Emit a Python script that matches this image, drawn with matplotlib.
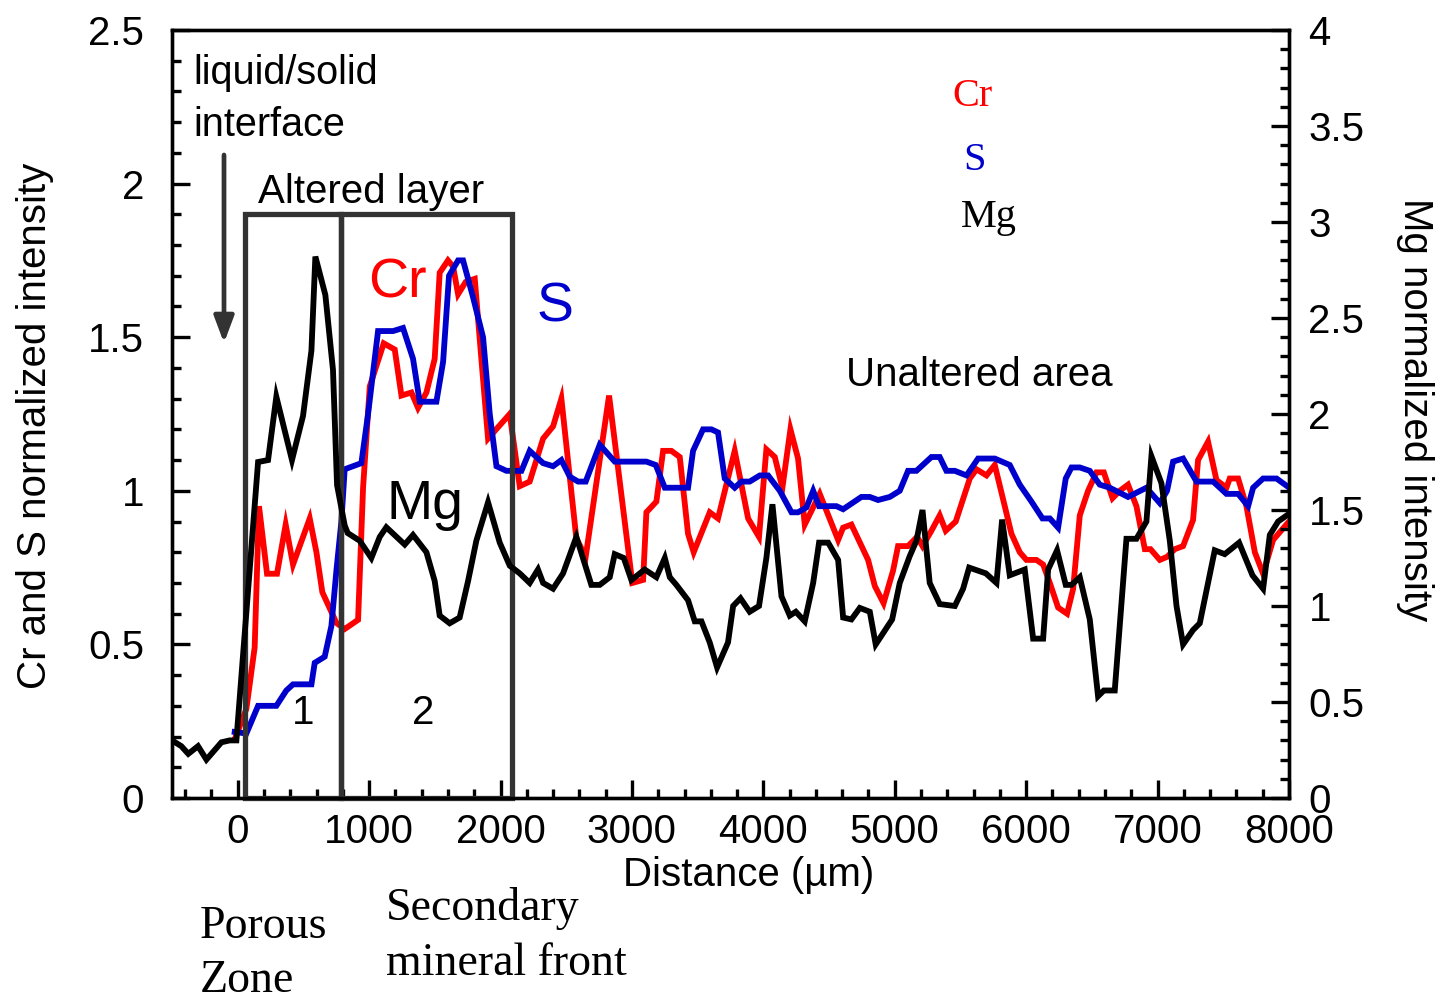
import matplotlib
matplotlib.use("Agg")
import matplotlib.pyplot as plt
from matplotlib.patches import Rectangle

# ---------------- data ----------------
mg_x = [-500, -429, -376, -302, -238, -124, -61, -10, 155, 231,
        294, 413, 497, 561, 591, 667, 725, 756, 814, 837,
        928, 1017, 1081, 1131, 1271, 1334, 1436, 1499, 1537, 1613,
        1689, 1753, 1816, 1905, 1994, 2070, 2146, 2222, 2285, 2324,
        2400, 2476, 2577, 2691, 2755, 2831, 2869, 2938, 2996, 3097,
        3186, 3250, 3288, 3338, 3427, 3478, 3529, 3592, 3648, 3731,
        3770, 3826, 3896, 3967, 4023, 4069, 4138, 4201, 4247, 4315,
        4379, 4424, 4493, 4569, 4607, 4670, 4734, 4810, 4855, 4980,
        5038, 5114, 5165, 5211, 5266, 5342, 5457, 5520, 5566, 5693,
        5774, 5817, 5875, 5989, 6053, 6129, 6167, 6235, 6301, 6345,
        6408, 6484, 6547, 6591, 6674, 6763, 6839, 6915, 6953, 7029,
        7093, 7144, 7194, 7270, 7321, 7384, 7435, 7511, 7620, 7722,
        7803, 7854, 7917, 8000]
mg_y = [0.30, 0.27, 0.23, 0.27, 0.20, 0.29, 0.30, 0.30, 1.75, 1.76,
        2.09, 1.76, 1.99, 2.33, 2.82, 2.62, 2.23, 1.63, 1.42, 1.38,
        1.34, 1.25, 1.36, 1.41, 1.32, 1.37, 1.28, 1.13, 0.95, 0.91,
        0.94, 1.13, 1.34, 1.54, 1.33, 1.21, 1.17, 1.12, 1.19, 1.12,
        1.09, 1.17, 1.36, 1.11, 1.11, 1.15, 1.27, 1.25, 1.135, 1.19,
        1.15, 1.25, 1.15, 1.11, 1.03, 0.92, 0.92, 0.81, 0.68, 0.81,
        1.00, 1.04, 0.97, 1.00, 1.25, 1.53, 1.05, 0.95, 0.97, 0.92,
        1.12, 1.33, 1.33, 1.24, 0.94, 0.93, 0.99, 0.97, 0.80, 0.93,
        1.12, 1.26, 1.34, 1.50, 1.12, 1.01, 1.00, 1.09, 1.20, 1.17,
        1.12, 1.45, 1.16, 1.19, 0.83, 0.83, 1.19, 1.29, 1.11, 1.11,
        1.15, 0.93, 0.53, 0.56, 0.56, 1.35, 1.35, 1.44, 1.78, 1.64,
        1.34, 1.00, 0.80, 0.875, 0.91, 1.12, 1.29, 1.27, 1.33, 1.16,
        1.09, 1.37, 1.44, 1.48]

cr_x = [-15, 66, 129, 162, 223, 299, 365, 421, 548, 599,
        644, 751, 814, 916, 954, 1005, 1111, 1195, 1246, 1322,
        1372, 1436, 1499, 1537, 1600, 1639, 1677, 1735, 1804, 1854,
        1905, 2070, 2146, 2222, 2324, 2400, 2463, 2577, 2648, 2826,
        3003, 3085, 3110, 3186, 3237, 3300, 3364, 3427, 3470, 3592,
        3655, 3782, 3884, 3967, 4023, 4087, 4145, 4206, 4264, 4315,
        4429, 4569, 4607, 4670, 4797, 4848, 4915, 4987, 5025, 5101,
        5170, 5211, 5279, 5342, 5388, 5464, 5571, 5622, 5698, 5761,
        5888, 5951, 6002, 6078, 6129, 6180, 6243, 6311, 6357, 6408,
        6471, 6535, 6591, 6657, 6712, 6775, 6839, 6903, 6946, 7017,
        7072, 7131, 7194, 7270, 7308, 7384, 7448, 7524, 7549, 7613,
        7676, 7740, 7803, 7879, 8000]
cr_y = [0.20, 0.29, 0.49, 0.95, 0.73, 0.73, 0.89, 0.76, 0.91, 0.80,
        0.67, 0.57, 0.55, 0.58, 1.01, 1.34, 1.48, 1.46, 1.31, 1.32,
        1.27, 1.32, 1.43, 1.71, 1.75, 1.73, 1.64, 1.68, 1.69, 1.43,
        1.17, 1.25, 1.015, 1.03, 1.17, 1.21, 1.30, 0.845, 0.785, 1.31,
        0.70, 0.71, 0.93, 0.965, 1.13, 1.13, 1.11, 0.86, 0.80, 0.93,
        0.91, 1.13, 0.91, 0.85, 1.135, 1.11, 1.01, 1.20, 1.105, 0.89,
        0.99, 0.84, 0.88, 0.89, 0.775, 0.69, 0.634, 0.74, 0.82, 0.82,
        0.85, 0.82, 0.87, 0.92, 0.87, 0.90, 1.04, 1.07, 1.05, 1.084,
        0.86, 0.80, 0.775, 0.775, 0.76, 0.70, 0.62, 0.60, 0.68, 0.92,
        1.00, 1.06, 1.06, 0.976, 1.00, 1.02, 0.95, 0.81, 0.81, 0.775,
        0.785, 0.81, 0.82, 0.905, 1.10, 1.16, 1.035, 1.01, 1.04, 1.04,
        0.95, 0.80, 0.73, 0.84, 0.90]

s_x = [-23, 66, 155, 294, 370, 421, 561, 586, 662, 713,
       751, 789, 814, 877, 941, 992, 1068, 1182, 1258, 1334,
       1385, 1512, 1563, 1608, 1677, 1715, 1791, 1867, 1918, 1969,
       2045, 2159, 2222, 2324, 2400, 2463, 2527, 2590, 2648, 2755,
       2869, 3110, 3181, 3250, 3427, 3465, 3541, 3605, 3655, 3706,
       3782, 3833, 3896, 3973, 4036, 4125, 4214, 4264, 4328, 4379,
       4424, 4556, 4607, 4746, 4810, 4873, 4962, 5038, 5101, 5165,
       5279, 5342, 5393, 5457, 5546, 5634, 5761, 5875, 5951, 6040,
       6124, 6180, 6243, 6301, 6345, 6408, 6484, 6560, 6636, 6775,
       6915, 7017, 7072, 7118, 7194, 7296, 7423, 7524, 7613, 7689,
       7727, 7803, 7905, 7986]
s_y = [0.215, 0.21, 0.30, 0.30, 0.35, 0.37, 0.37, 0.44, 0.46, 0.56,
       0.74, 0.90, 1.07, 1.08, 1.09, 1.25, 1.52, 1.52, 1.53, 1.43,
       1.29, 1.29, 1.42, 1.70, 1.75, 1.75, 1.63, 1.50, 1.25, 1.08,
       1.065, 1.065, 1.13, 1.09, 1.08, 1.10, 1.046, 1.03, 1.03, 1.15,
       1.095, 1.095, 1.084, 1.01, 1.01, 1.13, 1.20, 1.20, 1.19, 1.04,
       1.01, 1.03, 1.03, 1.05, 1.05, 1.00, 0.93, 0.93, 0.946, 1.00,
       0.95, 0.95, 0.94, 0.98, 0.98, 0.97, 0.98, 1.00, 1.065, 1.065,
       1.11, 1.11, 1.065, 1.065, 1.05, 1.105, 1.105, 1.084, 1.02, 0.965,
       0.91, 0.91, 0.88, 1.04, 1.076, 1.076, 1.065, 1.02, 1.01, 0.98,
       1.01, 0.96, 1.00, 1.095, 1.105, 1.03, 1.03, 0.99, 0.99, 0.95,
       1.01, 1.04, 1.04, 1.015]

x_ticks = [0, 1000, 2000, 3000, 4000, 5000, 6000, 7000, 8000]
left_ticks = [0, 0.5, 1, 1.5, 2, 2.5]
left_ticklabels = ["0", "0.5", "1", "1.5", "2", "2.5"]
right_ticks = [0, 0.5, 1, 1.5, 2, 2.5, 3, 3.5, 4]
right_ticklabels = ["0", "0.5", "1", "1.5", "2", "2.5", "3", "3.5", "4"]
zone_edges = [53, 789, 2087]   # altered-layer box edges (µm)
zone_top = 1.9

# ---------------- style ----------------
SANS = ["Liberation Sans", "DejaVu Sans"]
SERIF = ["Liberation Serif", "DejaVu Serif"]
plt.rcParams["font.family"] = SANS
RED = "#ff0000"
BLUE = "#0000cc"
BOX = "#333333"
LW = 4.2

W, H = 1445, 1002
fig = plt.figure(figsize=(W / 100, H / 100), dpi=100)
ax = fig.add_axes([172 / W, 1 - 798 / H, (1289 - 172) / W, (798 - 30) / H])
ax2 = ax.twinx()

ax.plot(cr_x, cr_y, color=RED, lw=LW, solid_joinstyle="miter", zorder=3)
ax.plot(s_x, s_y, color=BLUE, lw=LW, solid_joinstyle="miter", zorder=3)
ax2.plot(mg_x, mg_y, color="black", lw=LW, solid_joinstyle="miter", zorder=3)

ax.set_xlim(-500, 8000)
ax.set_ylim(0, 2.5)
ax2.set_ylim(0, 4)

ax.set_xticks(x_ticks)
ax.set_xticks(range(-400, 8001, 200), minor=True)
ax.set_yticks(left_ticks)
ax.set_yticklabels(left_ticklabels)
ax.set_yticks([i / 10 for i in range(26)], minor=True)
ax2.set_yticks(right_ticks)
ax2.set_yticklabels(right_ticklabels)
ax2.set_yticks([i / 10 for i in range(41)], minor=True)

for a in (ax, ax2):
    for sp in a.spines.values():
        sp.set_linewidth(2.4)

ax.tick_params(axis="both", which="both", direction="in", width=2.4,
               labelsize=29, top=False, right=False)
ax.tick_params(axis="both", which="major", length=13)
ax.tick_params(axis="both", which="minor", length=6.5)
ax.tick_params(axis="y", which="major", pad=20)
ax.tick_params(axis="x", which="major", pad=11)
ax2.tick_params(axis="y", which="both", direction="in", width=2.4,
                labelsize=29, left=False, right=True, pad=14)
ax2.tick_params(axis="y", which="major", length=13)
ax2.tick_params(axis="y", which="minor", length=6.5)

ax.set_xlabel("Distance (µm)", fontsize=29, va="center")
ax.xaxis.set_label_coords((749 - 172) / 1117, (798 - 875) / 768)
ax.set_ylabel("Cr and S normalized intensity", fontsize=29, va="center")
ax.yaxis.set_label_coords((35 - 172) / 1117, (798 - 426) / 768)
ax2.set_ylabel("Mg normalized intensity", fontsize=29, rotation=270, va="center")
ax2.yaxis.set_label_coords((1415 - 172) / 1117, (798 - 410) / 768)

# altered-layer boxes
for x0, x1 in zip(zone_edges[:-1], zone_edges[1:]):
    ax.add_patch(Rectangle((x0, 0), x1 - x0, zone_top, fill=False,
                           edgecolor=BOX, lw=3.8, zorder=4, clip_on=False))

# arrow for interface
ax.annotate("", xy=(224 / W, 1 - 343 / H), xytext=(224 / W, 1 - 155 / H),
            xycoords="figure fraction", textcoords="figure fraction",
            arrowprops=dict(arrowstyle="-|>,head_length=1.6,head_width=0.6",
                            color=BOX, lw=3.4, shrinkA=0, shrinkB=0))


def ftext(px, py, s, **kw):
    fig.text(px / W, 1 - py / H, s, **kw)


ftext(193, 84, "liquid/solid", fontsize=28.5, va="baseline")
ftext(193, 136, "interface", fontsize=28.5, va="baseline")
ftext(258, 203, "Altered layer", fontsize=29, va="baseline")
ftext(397, 283, "Cr", fontsize=40, color=RED, ha="center", va="center")
ftext(555, 307, "S", fontsize=40, color=BLUE, ha="center", va="center")
ftext(425, 505, "Mg", fontsize=40, color="black", ha="center", va="center")
ftext(303, 713, "1", fontsize=29, ha="center", va="center")
ftext(423, 713, "2", fontsize=29, ha="center", va="center")
ftext(979, 375, "Unaltered area", fontsize=29, ha="center", va="center")

ftext(972, 97, "Cr", fontsize=29, color=RED, ha="center", va="center", family=SERIF)
ftext(974, 160, "S", fontsize=29, color=BLUE, ha="center", va="center", family=SERIF)
ftext(989, 218, "Mg", fontsize=29, color="black", ha="center", va="center", family=SERIF)

ftext(200, 938, "Porous", fontsize=33, va="baseline", family=SERIF)
ftext(200, 992, "Zone", fontsize=33, va="baseline", family=SERIF)
ftext(386, 920, "Secondary", fontsize=33, va="baseline", family=SERIF)
ftext(386, 975, "mineral front", fontsize=33, va="baseline", family=SERIF)

fig.savefig("out.png", dpi=100)
